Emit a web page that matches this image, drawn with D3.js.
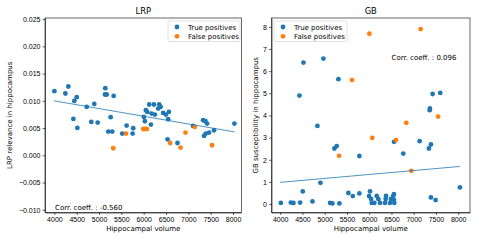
<!DOCTYPE html>
<html>
<head>
<meta charset="utf-8">
<script src="https://cdn.jsdelivr.net/npm/d3@7"></script>
<style>
  body { margin: 0; background: #fff; }
  svg { display: block; font-family: "DejaVu Sans", sans-serif; }
  .tick text { font-size: 7px; fill: #000; }
  .domain, .tick line { stroke: #000; stroke-width: 0.6; }
</style>
</head>
<body>
<div id="chart"></div>
<script>
// chart values
const xTicks = [4000, 4500, 5000, 5500, 6000, 6500, 7000, 7500, 8000];
const lrpTicks = [-0.010, -0.005, 0.000, 0.005, 0.010, 0.015, 0.020, 0.025];
const gbTicks = [0, 1, 2, 3, 4, 5, 6, 7, 8];

const lrpTrueX = [4000, 4246, 4313, 4447, 4500, 4425, 4514, 4724, 4894, 4827, 4970, 5140, 5133, 5171, 5327, 5260, 5207, 5296, 5520, 5618, 5765, 5752, 6004, 6027, 6049, 6079, 6123, 6228, 6347, 6378, 6324, 6176, 6250, 6436, 6496, 6563, 6548, 6161, 6534, 6757, 7106, 7330, 7383, 7419, 7575, 7464, 7390, 7352, 8031];
const lrpTrueY = [0.01176, 0.01134, 0.01263, 0.00998, 0.01066, 0.00667, 0.00502, 0.00888, 0.00943, 0.00612, 0.00601, 0.01232, 0.01116, 0.01116, 0.0109, 0.00699, 0.00435, 0.00435, 0.00399, 0.00546, 0.00496, 0.00399, 0.00704, 0.00625, 0.00827, 0.00796, 0.00932, 0.00932, 0.00932, 0.00888, 0.00858, 0.00766, 0.00748, 0.00778, 0.00748, 0.00796, 0.00662, 0.00564, 0.00294, 0.00226, 0.00539, 0.00643, 0.00625, 0.00583, 0.0046, 0.00417, 0.00399, 0.00355, 0.00583];
const lrpFalseX = [5318, 5602, 5990, 6030, 6070, 6592, 6825, 6936, 7144, 7531];
const lrpFalseY = [0.00129, 0.00399, 0.00483, 0.00483, 0.00483, 0.00226, 0.00142, 0.00417, 0.0052, 0.00184];
const lrpFitX = [3990, 8040];
const lrpFitY = [0.0100, 0.00428];

const gbTrueX = [4523, 4971, 5308, 4433, 7425, 7596, 7365, 7360, 4837, 6557, 7133, 7387, 7342, 6766, 5779, 5218, 5271, 4905, 4015, 4240, 4298, 4449, 4508, 4725, 5122, 5173, 5330, 5532, 5631, 5779, 6019, 5997, 6042, 6057, 6115, 6169, 6205, 6243, 6355, 6378, 6371, 6467, 6490, 6542, 6557, 6564, 6557, 7387, 7493, 8038];
const gbTrueY = [6.39, 6.57, 5.64, 4.90, 4.97, 5.02, 4.32, 4.24, 3.53, 2.81, 2.84, 2.69, 2.51, 2.28, 2.17, 2.51, 2.62, 0.96, 0.05, 0.07, 0.05, 0.07, 0.57, 0.12, 0.05, 0.03, 0.03, 0.50, 0.36, 0.48, 0.57, 0.36, 0.23, 0.05, 0.05, 0.37, 0.23, 0.05, 0.05, 0.37, 0.23, 0.05, 0.23, 0.37, 0.19, 0.05, 0.45, 0.30, 0.18, 0.75];
const gbFalseX = [6004, 5615, 7156, 7548, 6834, 6070, 6602, 5323, 6946];
const gbFalseY = [7.69, 5.60, 7.90, 3.95, 3.67, 2.99, 2.89, 2.18, 1.50];
const gbFitX = [4000, 8040];
const gbFitY = [0.98, 1.70];

const BLUE = "#1f77b4";
const ORANGE = "#ff7f0e";
const FONT = 7;

const svg = d3.select("#chart").append("svg")
  .attr("width", 479)
  .attr("height", 240);

const zip = (xs, ys) => xs.map((x, i) => [x, ys[i]]);

const drawPanel = (p) => {
  const x = d3.scaleLinear().domain(p.xDomain).range([p.left, p.right]);
  const y = d3.scaleLinear().domain(p.yDomain).range([p.bottom, p.top]);
  const g = svg.append("g");

  // axes
  g.append("g")
    .attr("transform", `translate(0,${p.bottom})`)
    .call(d3.axisBottom(x).tickValues(xTicks).tickFormat(d3.format("d")).tickSize(2.5).tickPadding(2).tickSizeOuter(0));
  g.append("g")
    .attr("transform", `translate(${p.left},0)`)
    .call(d3.axisLeft(y).tickValues(p.yTicks).tickFormat(p.yFormat).tickSize(2.5).tickPadding(2).tickSizeOuter(0));

  // box
  g.append("rect")
    .attr("x", p.left).attr("y", p.top)
    .attr("width", p.right - p.left).attr("height", p.bottom - p.top)
    .attr("fill", "none").attr("stroke", "#000").attr("stroke-width", 0.6);

  // points
  g.selectAll(".tp").data(zip(p.tx, p.ty)).enter().append("circle")
    .attr("cx", (d) => x(d[0])).attr("cy", (d) => y(d[1]))
    .attr("r", 2.4).attr("fill", BLUE);
  g.selectAll(".fp").data(zip(p.fx, p.fy)).enter().append("circle")
    .attr("cx", (d) => x(d[0])).attr("cy", (d) => y(d[1]))
    .attr("r", 2.4).attr("fill", ORANGE);

  // regression line
  g.append("path")
    .datum(zip(p.lx, p.ly))
    .attr("d", d3.line().x((d) => x(d[0])).y((d) => y(d[1])))
    .attr("stroke", BLUE).attr("stroke-width", 0.8).attr("fill", "none");

  // title and labels
  const cx = (p.left + p.right) / 2;
  g.append("text").attr("x", cx).attr("y", 14)
    .attr("text-anchor", "middle").style("font-size", "8.4px").text(p.title);
  g.append("text").attr("x", cx).attr("y", 231)
    .attr("text-anchor", "middle").style("font-size", FONT + "px").text("Hippocampal volume");
  g.append("text")
    .attr("transform", `translate(${p.yLabelX},${(p.top + p.bottom) / 2}) rotate(-90)`)
    .attr("text-anchor", "middle").style("font-size", FONT + "px").text(p.yLabel);
  g.append("text").attr("x", p.corrX).attr("y", p.corrY)
    .style("font-size", FONT + "px").text(p.corr);

  // legend
  const lg = g.append("g").attr("transform", `translate(${p.legX},${p.top + 3})`);
  lg.append("rect").attr("width", p.legW).attr("height", 20.5).attr("rx", 1.5)
    .attr("fill", "#fff").attr("fill-opacity", 0.8)
    .attr("stroke", "#ccc").attr("stroke-width", 0.6);
  [["True positives", BLUE], ["False positives", ORANGE]].forEach(([label, c], i) => {
    lg.append("circle").attr("cx", 9).attr("cy", 6 + i * 9.3).attr("r", 2.4).attr("fill", c);
    lg.append("text").attr("x", 20).attr("y", 8.5 + i * 9.3)
      .style("font-size", FONT + "px").text(label);
  });
};

drawPanel({
  title: "LRP",
  left: 45, right: 241.5, top: 18, bottom: 212.5,
  xDomain: [3790, 8190], yDomain: [-0.0105, 0.0252],
  yTicks: lrpTicks, yFormat: d3.format(".3f"),
  tx: lrpTrueX, ty: lrpTrueY, fx: lrpFalseX, fy: lrpFalseY,
  lx: lrpFitX, ly: lrpFitY,
  yLabel: "LRP relevance in hippocampus", yLabelX: 12,
  corr: "Corr. coeff. : -0.560", corrX: 55, corrY: 210,
  legX: 168, legW: 72,
});

drawPanel({
  title: "GB",
  left: 271.5, right: 470, top: 18, bottom: 212.5,
  xDomain: [3805, 8265], yDomain: [-0.38, 8.4],
  yTicks: gbTicks, yFormat: d3.format("d"),
  tx: gbTrueX, ty: gbTrueY, fx: gbFalseX, fy: gbFalseY,
  lx: gbFitX, ly: gbFitY,
  yLabel: "GB susceptibility in hippocampus", yLabelX: 258,
  corr: "Corr. coeff. : 0.096", corrX: 391.5, corrY: 59.8,
  legX: 274, legW: 73,
});
</script>
</body>
</html>
